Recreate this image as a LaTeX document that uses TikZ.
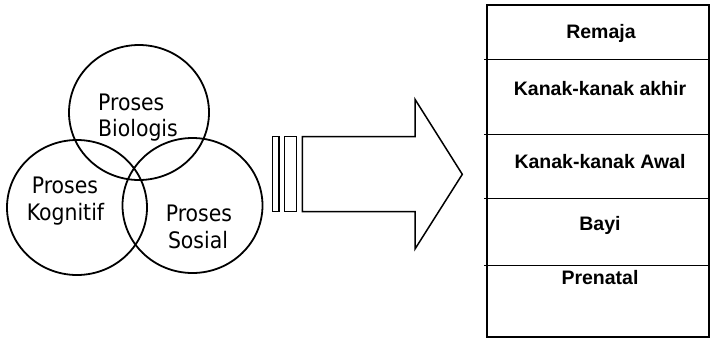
\documentclass[tikz,border=0pt]{standalone}
\usepackage{fontspec}
\setmainfont{Liberation Sans}
\newfontfamily\circfont{DejaVu Sans Condensed}
\newfontfamily\tabfont{Liberation Sans}
\usetikzlibrary{shapes.geometric}
\begin{document}
\begin{tikzpicture}[x=1pt,y=-1pt,
  venn/.style={draw, line width=1.8pt, ellipse, minimum width=140pt, minimum height=135pt, inner sep=0pt},
  circtext/.style={font=\circfont\fontsize{22.7}{26}\selectfont, anchor=base, inner sep=0pt},
  tabtext/.style={font=\tabfont\bfseries\fontsize{19.5}{22}\selectfont, anchor=base, inner sep=0pt},
  shapeline/.style={draw, line width=1.5pt, line join=miter},
  tabline/.style={draw, line width=1.4pt},
  tabframe/.style={draw, line width=2.2pt}]
\useasboundingbox (0,0) rectangle (710,338);
% Venn circles
\node[venn] (bio) at (139,112.5) {};
\node[venn] (kog) at (77,207.5) {};
\node[venn] (sos) at (192.5,205.5) {};
% circle texts
\node[circtext, anchor=base west] (bio1) at (98,110) {Proses};
\node[circtext, anchor=base west] (bio2) at (98,136) {Biologis};
\node[circtext] (kog1) at (65,193.3) {Proses};
\node[circtext] (kog2) at (65.5,220) {Kognitif};
\node[circtext] (sos1) at (199,221.7) {Proses};
\node[circtext] (sos2) at (198,248.3) {Sosial};
% bars and arrow
\draw[shapeline] (272.7,136.7) rectangle (279,211.7);
\draw[shapeline] (284.7,136.7) rectangle (296.7,211.7);
\draw[shapeline] (302.3,136.7) -- (415,136.7) -- (415,99.3) -- (462.3,174.3) -- (415,249) -- (415,211.7) -- (302.3,211.7) -- cycle;
% table
\draw[tabframe] (487.3,5) rectangle (709,337.3);
\coordinate (l1a) at (484,59.3);  \coordinate (l1b) at (709,59.3);
\coordinate (l2a) at (484,134.3); \coordinate (l2b) at (709,134.3);
\coordinate (l3a) at (484,198.3); \coordinate (l3b) at (709,198.3);
\coordinate (l4a) at (484,265.7); \coordinate (l4b) at (709,265.7);
\draw[tabline] (l1a) -- (l1b);
\draw[tabline] (l2a) -- (l2b);
\draw[tabline] (l3a) -- (l3b);
\draw[tabline] (l4a) -- (l4b);
\node[tabtext] (t1) at (601,38.3) {Remaja};
\node[tabtext] (t2) at (600,95) {Kanak-kanak akhir};
\node[tabtext] (t3) at (600,168) {Kanak-kanak Awal};
\node[tabtext] (t4) at (600,230) {Bayi};
\node[tabtext] (t5) at (600,284.3) {Prenatal};
\end{tikzpicture}
\end{document}
